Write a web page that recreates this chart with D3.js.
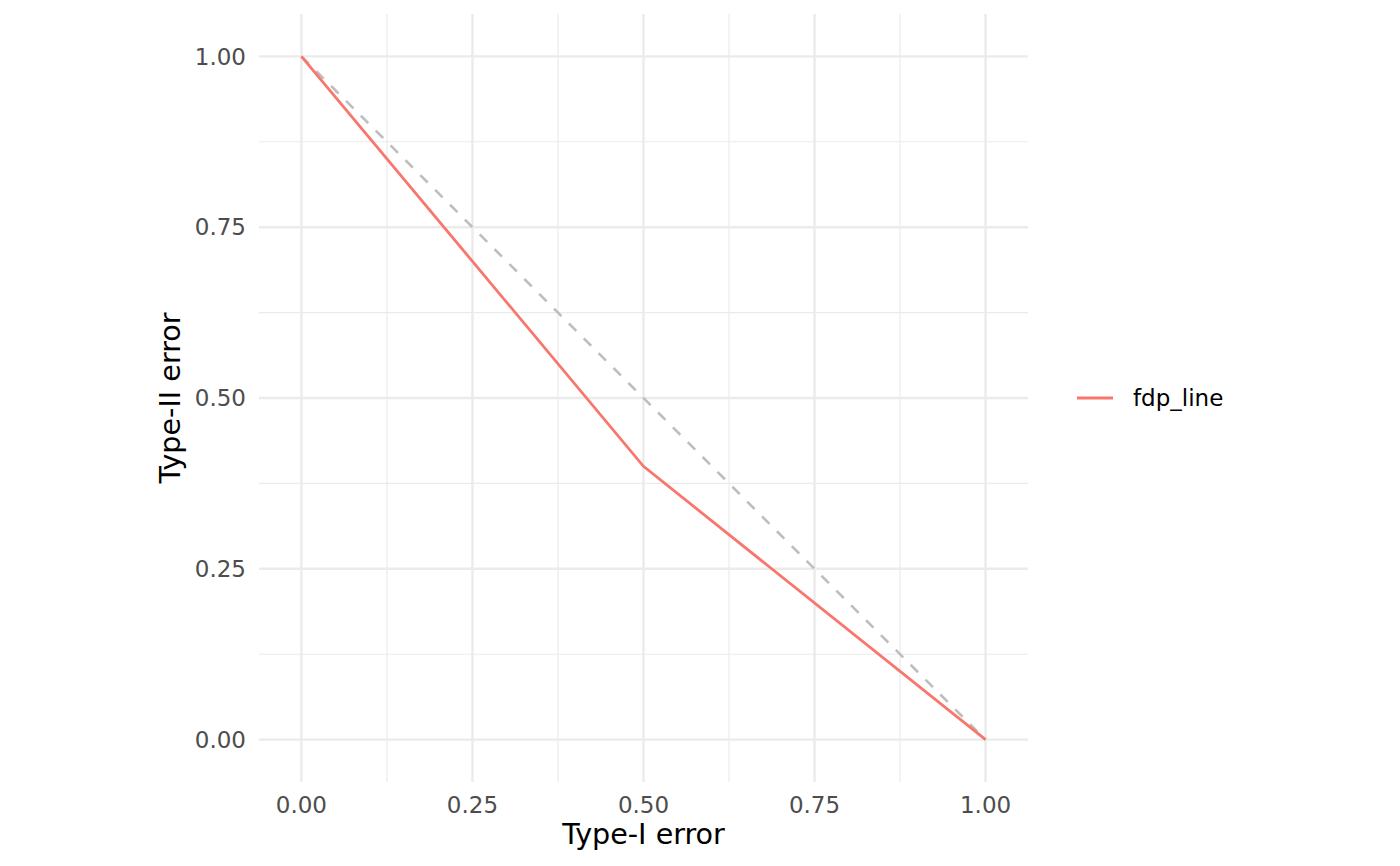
<!DOCTYPE html>
<html>
<head>
<meta charset="utf-8">
<script src="https://cdn.jsdelivr.net/npm/d3@7"></script>
<style>
  body { margin: 0; background: #fff; }
  text { font-family: "DejaVu Sans", sans-serif; }
</style>
</head>
<body>
<div id="chart"></div>
<script>
// data
var typeOne = [0, 0.5, 1];
var typeTwo = [1, 0.4, 0];
var diagX = [0, 1];
var diagY = [1, 0];
var majorTicks = [0, 0.25, 0.5, 0.75, 1];
var minorTicks = [0.125, 0.375, 0.625, 0.875];
var seriesName = 'fdp_line';

var width = 1400, height = 866,
  panel = { left: 259, right: 1028, top: 14, bottom: 782 },
  lineColor = '#F8766D',
  fmt = d3.format('.2f');

var x = d3.scaleLinear().domain([-0.062, 1.062]).range([panel.left, panel.right]),
  y = d3.scaleLinear().domain([-0.062, 1.062]).range([panel.bottom, panel.top]);

var svg = d3.select('#chart')
  .append('svg')
  .attr('width', width)
  .attr('height', height);

var grid = svg.append('g');

// minor grid
grid.selectAll('.minx').data(minorTicks).enter().append('line')
  .attr('x1', function (d) { return x(d); }).attr('x2', function (d) { return x(d); })
  .attr('y1', panel.top).attr('y2', panel.bottom)
  .style('stroke', '#ebebeb').style('stroke-width', 1.2);
grid.selectAll('.miny').data(minorTicks).enter().append('line')
  .attr('y1', function (d) { return y(d); }).attr('y2', function (d) { return y(d); })
  .attr('x1', panel.left).attr('x2', panel.right)
  .style('stroke', '#ebebeb').style('stroke-width', 1.2);

// major grid
grid.selectAll('.majx').data(majorTicks).enter().append('line')
  .attr('x1', function (d) { return x(d); }).attr('x2', function (d) { return x(d); })
  .attr('y1', panel.top).attr('y2', panel.bottom)
  .style('stroke', '#ebebeb').style('stroke-width', 2.4);
grid.selectAll('.majy').data(majorTicks).enter().append('line')
  .attr('y1', function (d) { return y(d); }).attr('y2', function (d) { return y(d); })
  .attr('x1', panel.left).attr('x2', panel.right)
  .style('stroke', '#ebebeb').style('stroke-width', 2.4);

// dashed reference diagonal
var line = d3.line()
  .x(function (d) { return x(d[0]); })
  .y(function (d) { return y(d[1]); });

svg.append('path')
  .attr('d', line(d3.zip(diagX, diagY)))
  .style('fill', 'none')
  .style('stroke', '#bebebe')
  .style('stroke-width', 2.6)
  .style('stroke-dasharray', '10.5,10.5');

svg.append('path')
  .attr('d', line(d3.zip(typeOne, typeTwo)))
  .style('fill', 'none')
  .style('stroke', lineColor)
  .style('stroke-width', 2.8);

// tick labels
svg.selectAll('.xlab').data(majorTicks).enter().append('text')
  .attr('x', function (d) { return x(d); })
  .attr('y', 812.5)
  .attr('text-anchor', 'middle')
  .style('font-size', '23px')
  .style('fill', '#4d4d4d')
  .text(function (d) { return fmt(d); });

svg.selectAll('.ylab').data(majorTicks).enter().append('text')
  .attr('x', 246)
  .attr('y', function (d) { return y(d); })
  .attr('dy', '0.36em')
  .attr('text-anchor', 'end')
  .style('font-size', '23px')
  .style('fill', '#4d4d4d')
  .text(function (d) { return fmt(d); });

// axis titles
svg.append('text')
  .attr('x', (panel.left + panel.right) / 2)
  .attr('y', 844)
  .attr('text-anchor', 'middle')
  .style('font-size', '28.6px')
  .style('fill', '#000')
  .text('Type-I error');

svg.append('text')
  .attr('transform', 'translate(180,' + (panel.top + panel.bottom) / 2 + ') rotate(-90)')
  .attr('text-anchor', 'middle')
  .style('font-size', '28.6px')
  .style('fill', '#000')
  .text('Type-II error');

// legend
var legend = svg.append('g').attr('transform', 'translate(1077,398)');
legend.append('line')
  .attr('x1', 0).attr('x2', 36).attr('y1', 0).attr('y2', 0)
  .style('stroke', lineColor).style('stroke-width', 2.8);
legend.append('text')
  .attr('x', 56).attr('y', 0).attr('dy', '0.36em')
  .style('font-size', '23px')
  .style('fill', '#000')
  .text(seriesName);
</script>
</body>
</html>
